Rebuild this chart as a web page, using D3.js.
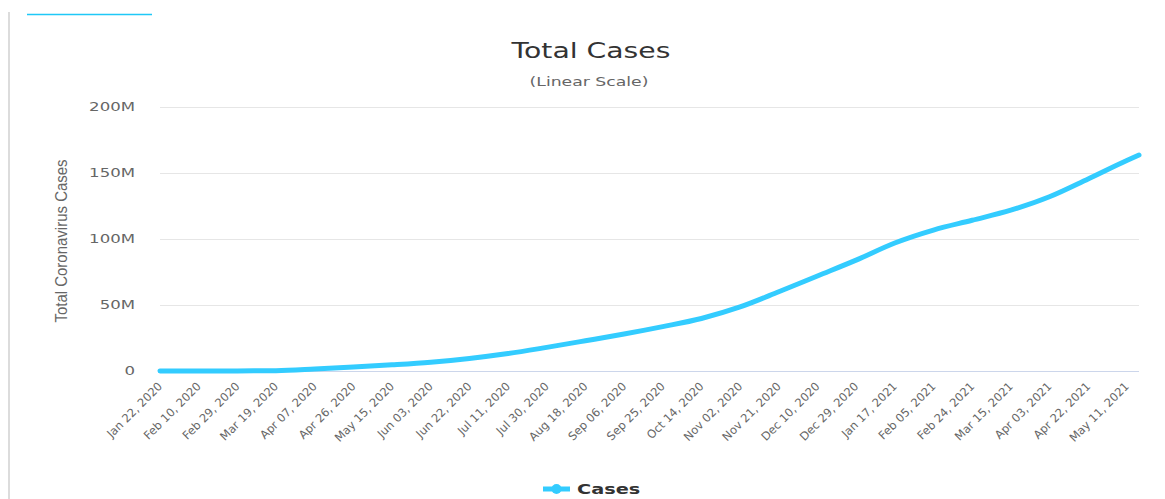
<!DOCTYPE html>
<html>
<head>
<meta charset="utf-8">
<script src="https://cdn.jsdelivr.net/npm/d3@7"></script>
<style>
  body { margin: 0; background: #fff; }
  svg { display: block; }
</style>
</head>
<body>
<svg id="chart"></svg>
<script>
// Datos: casos totales (millones) en cada fecha de etiqueta, más el último punto
const dates = ["2020-01-22", "2020-02-10", "2020-02-29", "2020-03-19", "2020-04-07",
  "2020-04-26", "2020-05-15", "2020-06-03", "2020-06-22", "2020-07-11", "2020-07-30",
  "2020-08-18", "2020-09-06", "2020-09-25", "2020-10-14", "2020-11-02", "2020-11-21",
  "2020-12-10", "2020-12-29", "2021-01-17", "2021-02-05", "2021-02-24", "2021-03-15",
  "2021-04-03", "2021-04-22", "2021-05-11", "2021-05-17"];
const casesM = [0.001, 0.04, 0.09, 0.24, 1.45, 3.0, 4.7, 6.7, 9.5, 13.2, 17.9,
  22.9, 28.0, 33.6, 39.8, 48.5, 60.0, 72.0, 84.0, 97.0, 106.8, 114.2, 121.8,
  132.0, 145.5, 159.5, 163.6];
const tickDates = dates.slice(0, 26);
const yTicks = [0, 50, 100, 150, 200];
const yTickLabels = ["0", "50M", "100M", "150M", "200M"];

const width = 1165;
const height = 499;
const plotLeft = 160, plotRight = 1139, plotTop = 107, plotBottom = 371;
const stretch = 1.38; // el texto del original sale ensanchado

const parse = d3.timeParse("%Y-%m-%d");
const fmt = d3.timeFormat("%b %d, %Y");
const data = dates.map((d, i) => ({ date: parse(d), value: casesM[i] }));

const svg = d3.select("#chart")
    .attr("width", width)
    .attr("height", height);

// Marco decorativo de la página
svg.append("line")
    .attr("x1", 9).attr("x2", 9).attr("y1", 12).attr("y2", height)
    .attr("stroke", "#dcdcdc").attr("stroke-width", 2);
svg.append("line")
    .attr("x1", 27).attr("x2", 152).attr("y1", 14.5).attr("y2", 14.5)
    .attr("stroke", "#1fc8f7").attr("stroke-width", 1.5);

const x = d3.scaleTime()
    .domain([data[0].date, data[data.length - 1].date])
    .range([plotLeft, plotRight]);

const y = d3.scaleLinear()
    .domain([0, 200])
    .range([plotBottom, plotTop]);

// Título y subtítulo
svg.append("text")
    .attr("transform", `translate(591,58) scale(${stretch},1)`)
    .attr("text-anchor", "middle")
    .style("font-family", "DejaVu Sans")
    .style("font-size", "20.5px")
    .style("fill", "#333")
    .text("Total Cases");
svg.append("text")
    .attr("transform", `translate(589,86) scale(${stretch},1)`)
    .attr("text-anchor", "middle")
    .style("font-family", "DejaVu Sans")
    .style("font-size", "12.5px")
    .style("fill", "#666")
    .text("(Linear Scale)");

// Líneas de cuadrícula y etiquetas del eje Y
svg.append("g")
    .attr("transform", `translate(${plotLeft},0)`)
    .call(d3.axisLeft(y).tickValues(yTicks)
        .tickSize(-(plotRight - plotLeft))
        .tickPadding(25)
        .tickFormat((d, i) => yTickLabels[i]))
    .call(g => g.select(".domain").remove())
    .call(g => g.selectAll(".tick line").attr("stroke", "#e6e6e6"))
    .call(g => g.selectAll(".tick text")
        .attr("transform", `translate(-25,0) scale(${stretch},1) translate(25,0)`)
        .style("font-family", "DejaVu Sans")
        .style("font-size", "12px")
        .style("fill", "#666"));

// Título del eje Y
svg.append("text")
    .attr("transform", `translate(67,${(plotTop + plotBottom) / 2 + 2}) scale(1.12,1) rotate(-90)`)
    .attr("text-anchor", "middle")
    .style("font-family", "Liberation Sans")
    .style("font-size", "15px")
    .style("fill", "#666")
    .text("Total Coronavirus Cases");

// Eje X
svg.append("line")
    .attr("x1", plotLeft).attr("x2", plotRight)
    .attr("y1", plotBottom + 0.5).attr("y2", plotBottom + 0.5)
    .attr("stroke", "#ccd6eb");

svg.append("g")
    .selectAll("text")
    .data(tickDates.map(parse))
    .join("text")
    .attr("transform", d => `translate(${x(d) + 3},${plotBottom + 16}) rotate(-45)`)
    .attr("text-anchor", "end")
    .style("font-family", "DejaVu Sans")
    .style("font-size", "11.5px")
    .style("fill", "#666")
    .text(d => fmt(d));

// Serie
const line = d3.line()
    .x(d => x(d.date))
    .y(d => y(d.value))
    .curve(d3.curveMonotoneX);

svg.append("path")
    .datum(data)
    .attr("fill", "none")
    .attr("stroke", "#33ccff")
    .attr("stroke-width", 5)
    .attr("stroke-linejoin", "round")
    .attr("stroke-linecap", "round")
    .attr("d", line);

// Leyenda
const legend = svg.append("g").attr("transform", "translate(543,489)");
legend.append("line")
    .attr("x1", 0).attr("x2", 27).attr("y1", 0).attr("y2", 0)
    .attr("stroke", "#33ccff").attr("stroke-width", 5);
legend.append("circle")
    .attr("cx", 13.5).attr("cy", 0).attr("r", 5)
    .attr("fill", "#33ccff");
legend.append("text")
    .attr("transform", `translate(34,5) scale(${stretch},1)`)
    .style("font-family", "DejaVu Sans")
    .style("font-size", "14px")
    .style("font-weight", "bold")
    .style("fill", "#333")
    .text("Cases");
</script>
</body>
</html>
